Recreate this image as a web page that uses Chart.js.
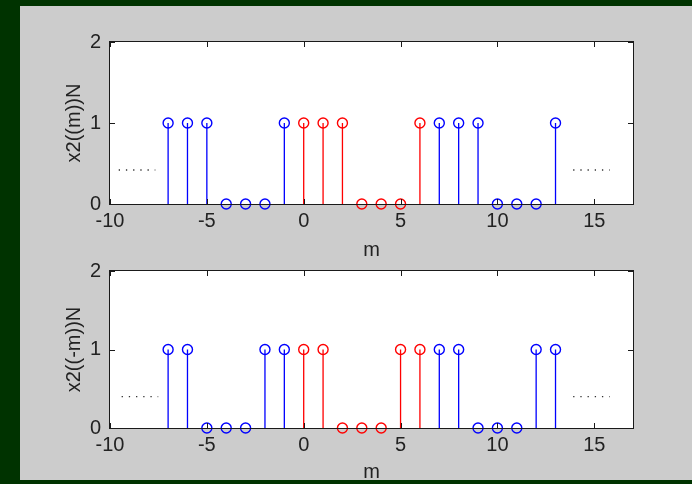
<!DOCTYPE html>
<html>
<head>
<meta charset="utf-8">
<script src="https://cdn.jsdelivr.net/npm/chart.js@4.4.1/dist/chart.umd.min.js"></script>
<style>
  html, body { margin: 0; padding: 0; }
  body { width: 692px; height: 484px; background: #003300; position: relative; overflow: hidden; }
  #panel { position: absolute; left: 20px; top: 6px; width: 672px; height: 474px; background: #cccccc; overflow: hidden; }
  .plot { position: absolute; left: -20px; width: 692px; }
  #topBox { top: -6px; height: 262px; }
  #botBox { top: 244px; height: 234px; }
</style>
</head>
<body>
<div id="panel">
  <div class="plot" id="topBox"><canvas id="topChart" width="692" height="262"></canvas></div>
  <div class="plot" id="botBox"><canvas id="botChart" width="692" height="234"></canvas></div>
</div>
<script>
// sample index and period length
const mValues = [-7, -6, -5, -4, -3, -2, -1, 0, 1, 2, 3, 4, 5, 6, 7, 8, 9, 10, 11, 12, 13];
const N = 7;

// x2((m))N and x2((-m))N
const x2Periodic = [1, 1, 1, 0, 0, 0, 1, 1, 1, 1, 0, 0, 0, 1, 1, 1, 1, 0, 0, 0, 1];
const x2Folded   = [1, 1, 0, 0, 0, 1, 1, 1, 1, 0, 0, 0, 1, 1, 1, 1, 0, 0, 0, 1, 1];

const xTicks = [-10, -5, 0, 5, 10, 15];
const yTicks = [0, 1, 2];

// "......" continuation marks: [x0, x1, y]
const dotsTopLeft  = [-9.55, -7.66, 0.42];
const dotsTopRight = [13.91, 15.8, 0.42];
const dotsBotLeft  = [-9.4, -7.51, 0.40];
const dotsBotRight = [13.91, 15.8, 0.40];

const BLUE = "#0000ff";
const RED = "#ff0000";
const FONT = { family: "'Liberation Sans', Arial, sans-serif", size: 20 };

function inPeriod(m) {
  return m >= 0 && m < N;
}

function stemData(values, keep) {
  const pts = [];
  mValues.forEach((m, i) => {
    if (!keep(m)) return;
    pts.push({ x: m, y: 0 }, { x: m, y: values[i] }, { x: m, y: null });
  });
  return pts;
}

function markerData(values, keep) {
  return mValues
    .map((m, i) => ({ x: m, y: values[i] }))
    .filter((p) => keep(p.x));
}

function dotLine(d) {
  return {
    data: [{ x: d[0], y: d[2] }, { x: d[1], y: d[2] }],
    showLine: true,
    borderColor: "#333",
    borderWidth: 1.3,
    borderDash: [1.3, 5.9],
    pointRadius: 0,
    clip: false,
  };
}

function buildDatasets(values, dots) {
  const outside = (m) => !inPeriod(m);
  const stem = (keep, color) => ({
    data: stemData(values, keep),
    showLine: true,
    spanGaps: false,
    borderColor: color,
    borderWidth: 1.3,
    pointRadius: 0,
    clip: false,
  });
  const marks = (keep, color) => ({
    data: markerData(values, keep),
    showLine: false,
    pointStyle: "circle",
    pointRadius: 5,
    pointBorderColor: color,
    pointBackgroundColor: "rgba(0,0,0,0)",
    pointBorderWidth: 1.4,
    clip: false,
  });
  return [
    stem(outside, BLUE),
    stem(inPeriod, RED),
    marks(outside, BLUE),
    marks(inPeriod, RED),
    dotLine(dots[0]),
    dotLine(dots[1]),
  ];
}

// white axes background, box and inward tick marks
const framePlugin = {
  id: "frame",
  beforeDraw(chart) {
    const { ctx, chartArea: a } = chart;
    ctx.save();
    ctx.fillStyle = "#ffffff";
    ctx.fillRect(a.left, a.top, a.right - a.left, a.bottom - a.top);
    ctx.restore();
  },
  afterDatasetsDraw(chart) {
    const { ctx, chartArea: a, scales } = chart;
    const len = 5;
    ctx.save();
    ctx.strokeStyle = "#1a1a1a";
    ctx.lineWidth = 1;
    ctx.beginPath();
    xTicks.forEach((v) => {
      const px = Math.round(scales.x.getPixelForValue(v)) + 0.5;
      ctx.moveTo(px, a.bottom);
      ctx.lineTo(px, a.bottom - len);
      ctx.moveTo(px, a.top);
      ctx.lineTo(px, a.top + len);
    });
    yTicks.forEach((v) => {
      const py = Math.round(scales.y.getPixelForValue(v)) + 0.5;
      ctx.moveTo(a.left, py);
      ctx.lineTo(a.left + len, py);
      ctx.moveTo(a.right, py);
      ctx.lineTo(a.right - len, py);
    });
    ctx.stroke();
    ctx.strokeRect(a.left - 0.5, a.top - 0.5, a.right - a.left + 1, a.bottom - a.top + 1);
    ctx.restore();
  },
};

function makeChart(id, values, dots, yTitle, padTop, xHeight) {
  return new Chart(document.getElementById(id), {
    type: "scatter",
    data: { datasets: buildDatasets(values, dots) },
    options: {
      responsive: false,
      animation: false,
      layout: { padding: { left: 0, right: 59, top: padTop, bottom: 0 } },
      plugins: { legend: { display: false }, tooltip: { enabled: false } },
      scales: {
        x: {
          type: "linear",
          min: -10,
          max: 17,
          afterBuildTicks: (s) => { s.ticks = xTicks.map((v) => ({ value: v })); },
          afterFit: (s) => { s.height = xHeight; },
          grid: { display: false, drawTicks: false },
          border: { display: false },
          ticks: { padding: 5, color: "#222", font: FONT, maxRotation: 0 },
          title: { display: true, text: "m", color: "#222", font: FONT, padding: { top: 0, bottom: 0 } },
        },
        y: {
          type: "linear",
          min: 0,
          max: 2,
          afterBuildTicks: (s) => { s.ticks = yTicks.map((v) => ({ value: v })); },
          afterFit: (s) => { s.width = 110; },
          grid: { display: false, drawTicks: false },
          border: { display: false },
          ticks: { padding: 9, color: "#222", font: FONT },
          title: { display: true, text: yTitle, color: "#222", font: FONT, padding: { top: 62, bottom: 0 } },
        },
      },
    },
    plugins: [framePlugin],
  });
}

makeChart("topChart", x2Periodic, [dotsTopLeft, dotsTopRight], "x2((m))N", 42, 58);
makeChart("botChart", x2Folded, [dotsBotLeft, dotsBotRight], "x2((-m))N", 15, 56);
</script>
</body>
</html>
